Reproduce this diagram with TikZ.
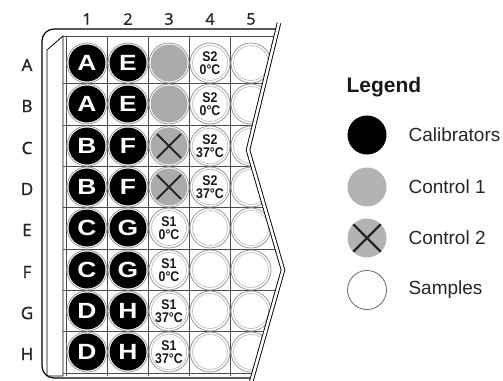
\documentclass[tikz,border=0pt]{standalone}
\usepackage{fontspec}
\setmainfont{Liberation Sans}
\newfontfamily\labfont[FakeBold=1.3]{Open Sans}
\newfontfamily\condfont[FakeStretch=0.88]{Liberation Sans}
\newfontfamily\widefont[FakeStretch=1.2]{Liberation Sans}
\definecolor{ctrlgray}{HTML}{ABABAB}
\definecolor{leggray}{HTML}{B3B3B3}
\begin{document}
\begin{tikzpicture}[x=1pt,y=-1pt,
  ring/.style={draw=black!40, line width=0.8pt},
  calib/.style={circle, fill=black, minimum size=37pt, inner sep=0pt, text=white,
    font=\widefont\bfseries\fontsize{22}{22}\selectfont},
  ctrlone/.style={circle, fill=ctrlgray, minimum size=37pt, inner sep=0pt},
  ctrltwo/.style={ctrlone, path picture={
    \draw[line width=1.8pt, black!85]
      ([shift={(-12,-12)}]path picture bounding box.center) -- ([shift={(12,12)}]path picture bounding box.center)
      ([shift={(-12,12)}]path picture bounding box.center) -- ([shift={(12,-12)}]path picture bounding box.center);}},
  sample/.style={circle, fill=white, draw=black!25, line width=0.7pt, minimum size=35pt, inner sep=0pt,
    align=center, font=\condfont\bfseries\fontsize{14}{12.5}\selectfont, text=black!90},
  gridline/.style={black!70, line width=0.7pt},
  frame/.style={black, line width=1.2pt},
  rowlab/.style={font=\labfont\fontsize{17}{17}\selectfont, text=black!85},
  collab/.style={font=\labfont\fontsize{16}{16}\selectfont, text=black!85},
  legcirc/.style={circle, minimum size=39pt, inner sep=0pt},
  legtext/.style={anchor=west, font=\fontsize{19}{19}\selectfont, text=black!85}
]
\useasboundingbox (0,0) rectangle (503,380);

% plate contents, clipped by the break
\begin{scope}
  \clip (38,20) -- (279,20) -- (248,150) -- (283,270) -- (250,385) -- (38,385) -- cycle;
  % outer frame
  \draw[frame, rounded corners=12] (300,29) -- (42,29) -- (42,378) -- (300,378);
  % left strip
  \draw[frame, line width=0.8pt] (63,36) -- (47,50) -- (47,376) -- (63,376) -- cycle;
  % grid
  \foreach \y in {36,83.5,125,166.5,207.5,249,290.5,331.5,373}
    \draw[gridline] (63,\y) -- (300,\y);
  \foreach \x in {66,107.5,148.5,189.5,230.5}
    \draw[gridline] (\x,36) -- (\x,376);
  % rings
  \foreach \y in {63,104,146,187,228,270,311,352}
    \foreach \x in {87,128,169,210,251}
      \draw[ring, fill=white] (\x,\y) circle (20);
  % column 1 and 2 calibrators
  \foreach \r/\y/\t/\u in {A/63/A/E,B/104/A/E,C/146/B/F,D/187/B/F,E/228/C/G,F/270/C/G,G/311/D/H,H/352/D/H}{
    \node[calib] (\r1) at (87,\y) {\t};
    \node[calib] (\r2) at (128,\y) {\u};
  }
  % column 3
  \node[ctrlone] (A3) at (169,63) {};
  \node[ctrlone] (B3) at (169,104) {};
  \node[ctrltwo] (C3) at (169,146) {};
  \node[ctrltwo] (D3) at (169,187) {};
  \node[sample] (E3) at (169,228) {S1\\0°C};
  \node[sample] (F3) at (169,270) {S1\\0°C};
  \node[sample] (G3) at (169,311) {S1\\37°C};
  \node[sample] (H3) at (169,352) {S1\\37°C};
  % column 4
  \node[sample] (A4) at (210,63) {S2\\0°C};
  \node[sample] (B4) at (210,104) {S2\\0°C};
  \node[sample] (C4) at (210,146) {S2\\37°C};
  \node[sample] (D4) at (210,187) {S2\\37°C};
  \foreach \r/\y in {E/228,F/270,G/311,H/352}
    \node[sample] (\r4) at (210,\y) {};
  % column 5
  \foreach \r/\y in {A/63,B/104,C/146,D/187,E/228,F/270,G/311,H/352}
    \node[sample] (\r5) at (251,\y) {};
\end{scope}

% break line
\draw[line width=0.9pt, double=white, double distance=2.6pt] (279,23) -- (248,150) -- (283,270) -- (250,386);

% labels
\foreach \r/\y in {A/63,B/104,C/146,D/187,E/228,F/270,G/311,H/352}
  \node[rowlab] (lab\r) at (27,\y+2) {\r};
\foreach \c/\x in {1/87,2/128,3/169,4/210,5/251}
  \node[collab] (col\c) at (\x,19) {\c};

% legend
\node[anchor=west, font=\bfseries\fontsize{21}{21}\selectfont, text=black!90] (legtitle) at (343,87) {Legend};
\node[legcirc, fill=black] (lcal) at (367,135) {};
\node[legcirc, fill=leggray] (lc1) at (367,187) {};
\node[legcirc, fill=leggray, path picture={
    \draw[line width=2.4pt, black!85]
      ([shift={(-16,-16)}]path picture bounding box.center) -- ([shift={(16,16)}]path picture bounding box.center)
      ([shift={(-16,16)}]path picture bounding box.center) -- ([shift={(16,-16)}]path picture bounding box.center);}] (lc2) at (367,238) {};
\node[legcirc, draw=black!60, line width=0.8pt, fill=white] (lsam) at (367,290) {};
\node[legtext] (tcal) at (405,135) {Calibrators};
\node[legtext] (tc1) at (405,187) {Control 1};
\node[legtext] (tc2) at (405,238) {Control 2};
\node[legtext] (tsam) at (405,290) {Samples};
\end{tikzpicture}
\end{document}
